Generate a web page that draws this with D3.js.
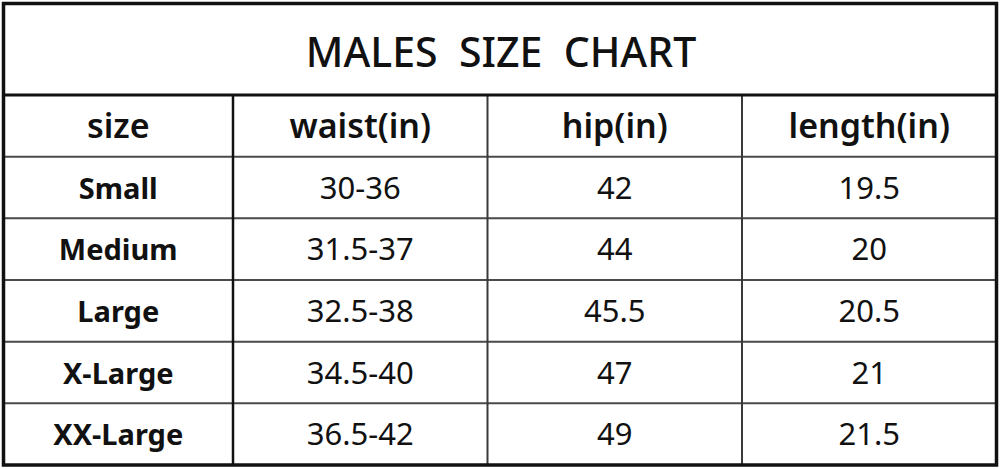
<!DOCTYPE html>
<html>
<head>
<meta charset="utf-8">
<script src="https://cdn.jsdelivr.net/npm/d3@7"></script>
<style>
  html, body { margin: 0; padding: 0; background: #fff; }
  svg { display: block; }
  text { font-family: "Noto Sans", "Open Sans", sans-serif; fill: #111; }
</style>
</head>
<body>
<div id="chart"></div>
<script>
const title = "MALES  SIZE  CHART";
const headers = ["size", "waist(in)", "hip(in)", "length(in)"];
const sizes = ["Small", "Medium", "Large", "X-Large", "XX-Large"];
const waist = ["30-36", "31.5-37", "32.5-38", "34.5-40", "36.5-42"];
const hip = ["42", "44", "45.5", "47", "49"];
const length = ["19.5", "20", "20.5", "21", "21.5"];

const W = 1000, H = 469;
const box = {left: 3.5, top: 3.5, right: 996.5, bottom: 465};
const titleBottom = 95;
const firstColRight = 233;

const svg = d3.select("#chart").append("svg")
  .attr("width", W)
  .attr("height", H);

// columns: first is fixed width, the other three share the rest
const x = d3.scaleBand()
  .domain(headers.slice(1))
  .range([firstColRight, box.right]);

const colLeft = i => i === 0 ? box.left : x(headers[i]);
const colRight = i => i === 0 ? firstColRight : x(headers[i]) + x.bandwidth();
const colMid = i => (colLeft(i) + colRight(i)) / 2;

// rows: header row + one per size
const rowKeys = ["header"].concat(sizes);
const y = d3.scaleBand()
  .domain(rowKeys)
  .range([titleBottom, box.bottom]);

// title
svg.append("text")
  .attr("x", W / 2 + 1)
  .attr("y", 67)
  .attr("text-anchor", "middle")
  .style("font-size", "41px")
  .style("font-weight", 500)
  .style("white-space", "pre")
  .text(title);

// header row
svg.selectAll("text.head")
  .data(headers)
  .enter().append("text")
  .attr("class", "head")
  .attr("x", (d, i) => colMid(i))
  .attr("y", y("header") + y.bandwidth() / 2 + 12)
  .attr("text-anchor", "middle")
  .style("font-size", "34px")
  .style("font-weight", 600)
  .text(d => d);

// body cells
const rows = sizes.map((s, i) => [s, waist[i], hip[i], length[i]]);

const rowG = svg.selectAll("g.row")
  .data(rows)
  .enter().append("g")
  .attr("class", "row")
  .attr("transform", (d, i) => `translate(0,${y(sizes[i]) + y.bandwidth() / 2 + 11})`);

rowG.selectAll("text")
  .data(d => d)
  .enter().append("text")
  .attr("x", (d, i) => colMid(i))
  .attr("text-anchor", "middle")
  .style("font-size", (d, i) => i === 0 ? "29px" : "31px")
  .style("font-weight", (d, i) => i === 0 ? 700 : 400)
  .text(d => d);

// horizontal row lines
svg.selectAll("line.hrow")
  .data(sizes)
  .enter().append("line")
  .attr("class", "hrow")
  .attr("x1", box.left)
  .attr("x2", box.right)
  .attr("y1", d => y(d))
  .attr("y2", d => y(d))
  .attr("stroke", "#4a4a4a")
  .attr("stroke-width", 2);

// vertical column lines
svg.selectAll("line.vcol")
  .data(headers.slice(2))
  .enter().append("line")
  .attr("class", "vcol")
  .attr("x1", d => x(d))
  .attr("x2", d => x(d))
  .attr("y1", titleBottom)
  .attr("y2", box.bottom)
  .attr("stroke", "#3a3a3a")
  .attr("stroke-width", 2);

svg.append("line")
  .attr("x1", firstColRight).attr("x2", firstColRight)
  .attr("y1", titleBottom).attr("y2", box.bottom)
  .attr("stroke", "#111")
  .attr("stroke-width", 2.5);

// title separator
svg.append("line")
  .attr("x1", box.left).attr("x2", box.right)
  .attr("y1", titleBottom).attr("y2", titleBottom)
  .attr("stroke", "#111")
  .attr("stroke-width", 3);

// outer border
svg.append("rect")
  .attr("x", box.left)
  .attr("y", box.top)
  .attr("width", box.right - box.left)
  .attr("height", box.bottom - box.top)
  .attr("fill", "none")
  .attr("stroke", "#111")
  .attr("stroke-width", 3.5);
</script>
</body>
</html>
